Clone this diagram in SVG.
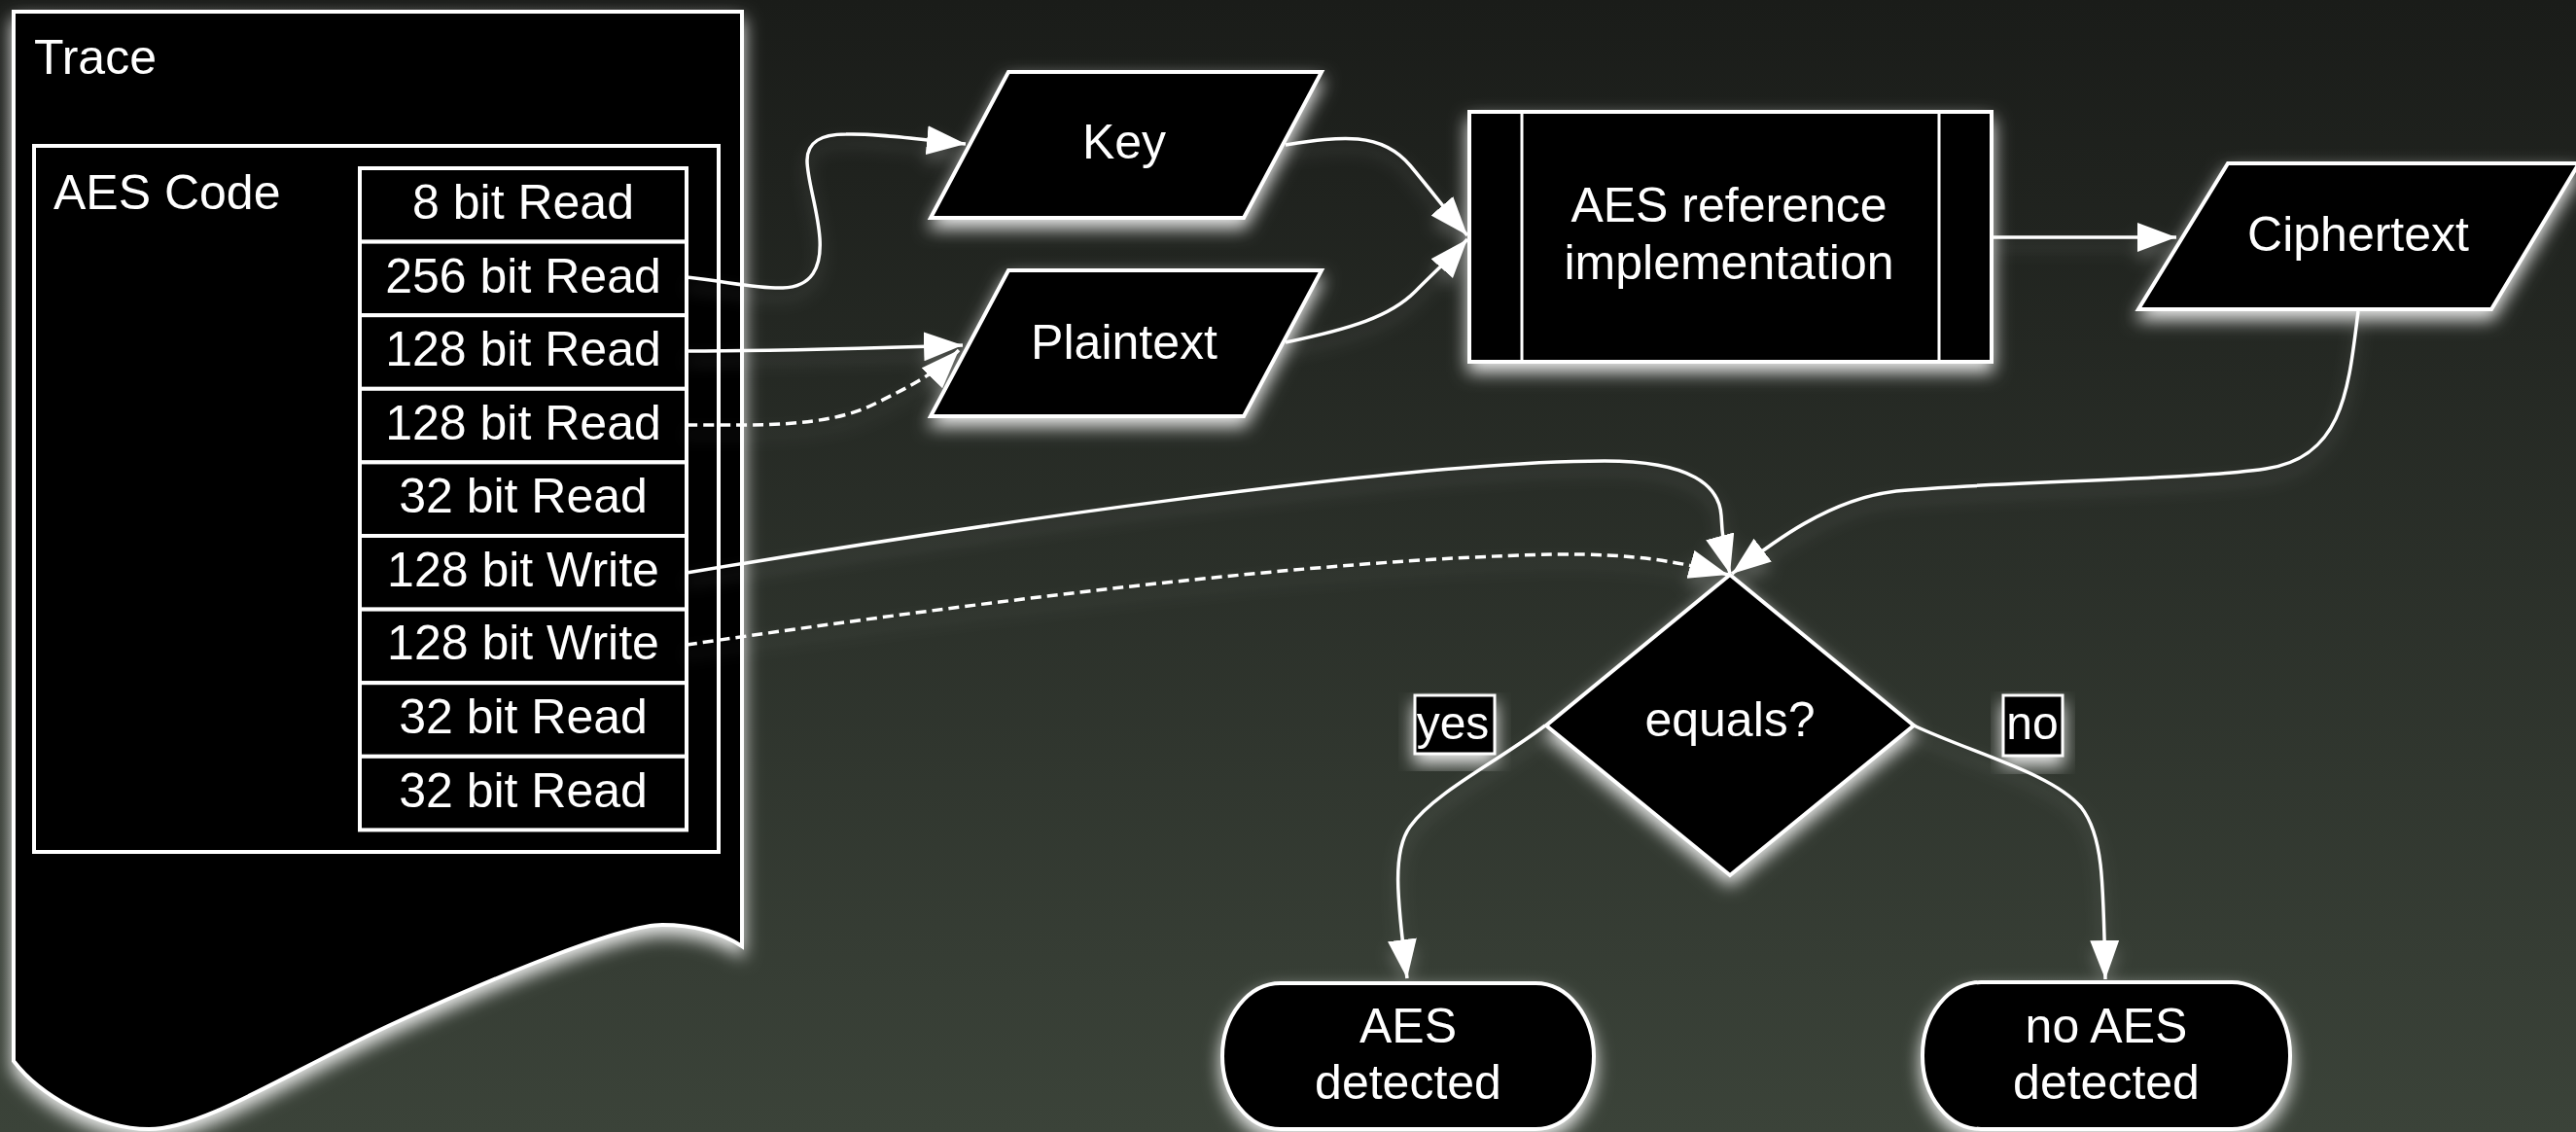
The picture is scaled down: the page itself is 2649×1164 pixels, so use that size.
<svg xmlns="http://www.w3.org/2000/svg" width="2649" height="1164" viewBox="0 0 2649 1164">
  <defs>
    <linearGradient id="bg" x1="0" y1="0" x2="0" y2="1">
      <stop offset="0" stop-color="#1a1c19"/>
      <stop offset="1" stop-color="#3b4339"/>
    </linearGradient>
    <!-- soft white halo under every node -->
    <filter id="glow" x="-20%" y="-20%" width="140%" height="150%">
      <feGaussianBlur in="SourceAlpha" stdDeviation="9" result="b"/>
      <feOffset in="b" dy="9" result="o"/>
      <feFlood flood-color="#ffffff" flood-opacity="0.9"/>
      <feComposite in2="o" operator="in" result="g"/>
      <feMerge>
        <feMergeNode in="g"/>
        <feMergeNode in="SourceGraphic"/>
      </feMerge>
    </filter>
    <!-- fainter halo for the connectors -->
    <filter id="lineglow" x="-10%" y="-30%" width="120%" height="160%">
      <feGaussianBlur in="SourceAlpha" stdDeviation="8" result="b"/>
      <feOffset in="b" dy="10" result="o"/>
      <feFlood flood-color="#ffffff" flood-opacity="0.22"/>
      <feComposite in2="o" operator="in" result="g"/>
      <feMerge>
        <feMergeNode in="g"/>
        <feMergeNode in="SourceGraphic"/>
      </feMerge>
    </filter>
    <marker id="arrow" markerUnits="userSpaceOnUse" markerWidth="42" markerHeight="32" refX="40" refY="15" orient="auto">
      <path d="M0,0 L40,15 L0,30 Z" fill="#ffffff"/>
    </marker>
    <style>
      .shape { fill: #000000; stroke: #ffffff; stroke-width: 4; stroke-linejoin: miter; }
      .thin { fill: #000000; stroke: #ffffff; stroke-width: 3; }
      .txt { font-family: "Liberation Sans", Arial, Helvetica, sans-serif; font-size: 50px; fill: #ffffff; }
      .mid { text-anchor: middle; }
      .lbl { font-size: 48px; }
      .edge { fill: none; stroke: #ffffff; stroke-width: 3.5; marker-end: url(#arrow); }
      .dash { stroke-dasharray: 11 6; }
    </style>
  </defs>

  <rect x="0" y="0" width="2649" height="1164" fill="url(#bg)"/>

  <!-- Trace document with the AES code block and its access table -->
  <g id="trace" filter="url(#glow)">
    <path class="shape" d="M14,12 H763 V973 C740,958 712,951 681,951 C640,951 520,1000 410,1050 C300,1100 210,1161 153,1161 C100,1161 40,1125 14,1091 Z"/>
    <text class="txt" x="35" y="76">Trace</text>
    <g id="aes-code">
      <rect class="shape" x="35" y="150" width="704" height="726"/>
      <text class="txt" x="55" y="215">AES Code</text>
      <g id="access-table">
        <rect class="shape" x="370" y="173" width="336" height="75.6"/>
        <rect class="shape" x="370" y="248.6" width="336" height="75.6"/>
        <rect class="shape" x="370" y="324.2" width="336" height="75.6"/>
        <rect class="shape" x="370" y="399.8" width="336" height="75.6"/>
        <rect class="shape" x="370" y="475.4" width="336" height="75.6"/>
        <rect class="shape" x="370" y="551" width="336" height="75.6"/>
        <rect class="shape" x="370" y="626.6" width="336" height="75.6"/>
        <rect class="shape" x="370" y="702.2" width="336" height="75.6"/>
        <rect class="shape" x="370" y="777.8" width="336" height="75.6"/>
        <text class="txt mid" x="538" y="225">8 bit Read</text>
        <text class="txt mid" x="538" y="301">256 bit Read</text>
        <text class="txt mid" x="538" y="376">128 bit Read</text>
        <text class="txt mid" x="538" y="452">128 bit Read</text>
        <text class="txt mid" x="538" y="527">32 bit Read</text>
        <text class="txt mid" x="538" y="603">128 bit Write</text>
        <text class="txt mid" x="538" y="678">128 bit Write</text>
        <text class="txt mid" x="538" y="754">32 bit Read</text>
        <text class="txt mid" x="538" y="830">32 bit Read</text>
      </g>
    </g>
  </g>

  <g id="connectors" filter="url(#lineglow)">
    <path class="edge" d="M706,285 C750,290 780,297 805,296 C835,295 845,275 843,245 C841,215 830,185 830,165 C830,145 845,138 870,138 C905,137 940,143 993,148"/>
    <path class="edge" d="M706,361 C800,361 900,358 990,355"/>
    <path class="edge dash" d="M706,437 C780,437 850,440 900,415 C930,400 962,385 986,360"/>
    <path class="edge" d="M706,589 C1000,540 1450,474 1650,474 C1740,474 1768,500 1770,530 C1771,555 1775,575 1779,590"/>
    <path class="edge dash" d="M706,663 C1000,620 1350,575 1600,570 C1680,569 1730,578 1777,591"/>
    <path class="edge" d="M1322,149 C1380,140 1420,135 1450,170 C1475,200 1490,220 1509,242"/>
    <path class="edge" d="M1322,352 C1390,338 1430,325 1455,300 C1480,275 1495,262 1509,246"/>
    <path class="edge" d="M2048,244 L2238,244"/>
    <path class="edge" d="M2425,320 C2415,400 2410,470 2330,482 C2250,494 2050,495 1950,505 C1880,513 1820,560 1781,590"/>
    <path class="edge" d="M1589,746 C1540,783 1475,815 1450,850 C1432,875 1436,920 1447,1006"/>
    <path class="edge" d="M1968,746 C2030,775 2110,795 2140,830 C2162,858 2163,900 2165,1007"/>
  </g>

  <g id="key" filter="url(#glow)">
    <path class="shape" d="M1037,74 H1359 L1279,224 H957 Z"/>
    <text class="txt mid" x="1156" y="163">Key</text>
  </g>

  <g id="plaintext" filter="url(#glow)">
    <path class="shape" d="M1037,278 H1359 L1279,428 H957 Z"/>
    <text class="txt mid" x="1156" y="369">Plaintext</text>
  </g>

  <g id="aes-reference" filter="url(#glow)">
    <rect class="shape" x="1511" y="115" width="537" height="257"/>
    <line x1="1565" y1="115" x2="1565" y2="372" stroke="#ffffff" stroke-width="3"/>
    <line x1="1994" y1="115" x2="1994" y2="372" stroke="#ffffff" stroke-width="3"/>
    <text class="txt mid" x="1778" y="228">AES reference</text>
    <text class="txt mid" x="1778" y="287">implementation</text>
  </g>

  <g id="ciphertext" filter="url(#glow)">
    <path class="shape" d="M2291,168 H2652 L2562,318 H2199 Z"/>
    <text class="txt mid" x="2425" y="258">Ciphertext</text>
  </g>

  <g id="equals" filter="url(#glow)">
    <path class="shape" d="M1779,591 L1968,746 L1779,900 L1590,746 Z"/>
    <text class="txt mid" x="1779" y="757">equals?</text>
  </g>

  <g id="label-yes" filter="url(#glow)">
    <rect class="thin" x="1455" y="715" width="82" height="60"/>
    <text class="txt lbl mid" x="1494" y="760">yes</text>
  </g>

  <g id="label-no" filter="url(#glow)">
    <rect class="thin" x="2060" y="715" width="61" height="62"/>
    <text class="txt lbl mid" x="2090" y="760">no</text>
  </g>

  <g id="aes-detected" filter="url(#glow)">
    <rect class="shape" x="1257" y="1011" width="382" height="150" rx="60" ry="75"/>
    <text class="txt mid" x="1448" y="1072">AES</text>
    <text class="txt mid" x="1448" y="1130">detected</text>
  </g>

  <g id="no-aes-detected" filter="url(#glow)">
    <rect class="shape" x="1977" y="1010" width="378" height="151" rx="60" ry="75"/>
    <text class="txt mid" x="2166" y="1072">no AES</text>
    <text class="txt mid" x="2166" y="1130">detected</text>
  </g>
</svg>
